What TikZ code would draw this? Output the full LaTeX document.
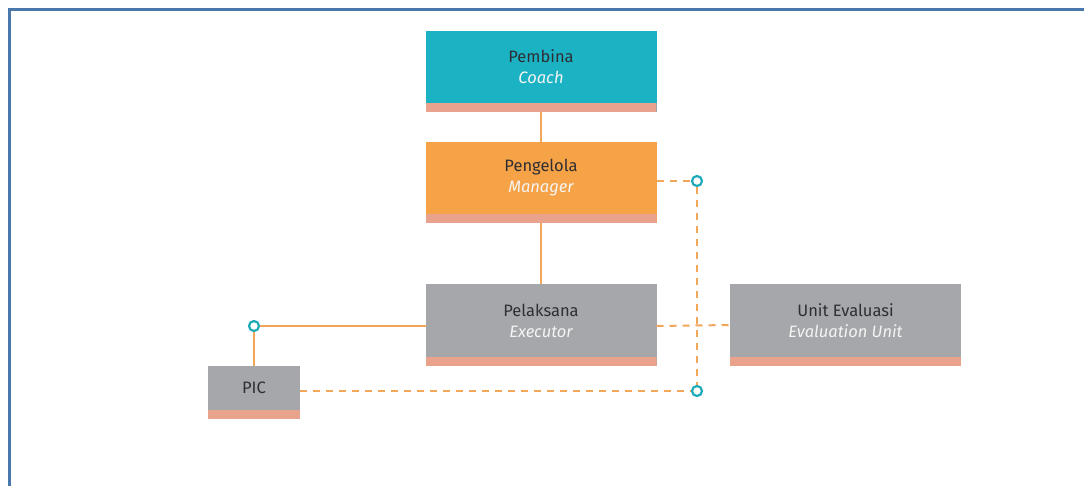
\documentclass[tikz,border=0pt]{standalone}
\usepackage{fontspec}
\setmainfont{Fira Sans}
\definecolor{frameblue}{HTML}{4A78AC}
\definecolor{teal}{HTML}{1BB3C4}
\definecolor{orng}{HTML}{F6A247}
\definecolor{gry}{HTML}{A6A7AA}
\definecolor{salmon}{HTML}{E9A38C}
\definecolor{conn}{HTML}{F2A65A}
\definecolor{ringc}{HTML}{1EAAB8}
\definecolor{txt}{HTML}{2E2E33}
\definecolor{itx}{HTML}{F4F4F4}
\tikzset{
  orgbox/.style={rectangle, inner sep=0pt, minimum width=231pt, minimum height=81pt,
    path picture={\fill[salmon] ([yshift=9pt]path picture bounding box.south west) rectangle (path picture bounding box.south east);}},
  picbox/.style={orgbox, minimum width=92pt, minimum height=53pt},
  lab/.style={align=center, font=\fontsize{16.5}{21}\selectfont, text=txt},
  solidconn/.style={draw=conn, line width=2pt},
  dashconn/.style={draw=conn, line width=2pt, dash pattern=on 7pt off 6pt},
  ring/.style={circle, draw=ringc, line width=2.2pt, fill=white, minimum size=10pt, inner sep=0pt}
}
\newcommand{\itl}[1]{\textcolor{itx}{\itshape #1}}
\begin{document}
\begin{tikzpicture}[x=1pt,y=-1pt]
\useasboundingbox (0,0) rectangle (1084,486);
\draw[frameblue, line width=3pt] (9,490) -- (9,10) -- (1090,10);

\node[orgbox, fill=teal, label={[lab, yshift=4.5pt]center:Pembina\\\itl{Coach}}] (pembina) at (541,71.5) {};
\node[orgbox, fill=orng, label={[lab, yshift=4.5pt]center:Pengelola\\\itl{Manager}}] (pengelola) at (541,182.5) {};
\node[orgbox, fill=gry, label={[lab, yshift=4.5pt]center:Pelaksana\\\itl{Executor}}] (pelaksana) at (541,325) {};
\node[orgbox, fill=gry, label={[lab, yshift=4.5pt]center:Unit Evaluasi\\\itl{Evaluation Unit}}] (unit) at (845.5,325) {};
\node[picbox, fill=gry, label={[lab, yshift=4.5pt]center:PIC}] (pic) at (254,392.5) {};

\coordinate (pengR) at (656.5,181);
\coordinate (pelR) at (656.5,326);
\coordinate (pelL) at (425.5,326);
\node[ring] (r1) at (697,181) {};
\node[ring] (r2) at (697,391) {};
\node[ring] (r3) at (254,326) {};
\coordinate (picR) at (300,391);

\draw[solidconn] (pembina.south) -- (pengelola.north);
\draw[solidconn] (pengelola.south) -- (pelaksana.north);
\draw[solidconn] (pelL) -- (r3.east);
\draw[solidconn] (r3.south) -- (pic.north);
\draw[dashconn] (pengR) -- (r1.west);
\draw[dashconn] (r1.south) -- (r2.north);
\draw[dashconn] (picR) -- (r2.west);
\draw[dashconn] (pelR) -- (unit.west);
\end{tikzpicture}
\end{document}
